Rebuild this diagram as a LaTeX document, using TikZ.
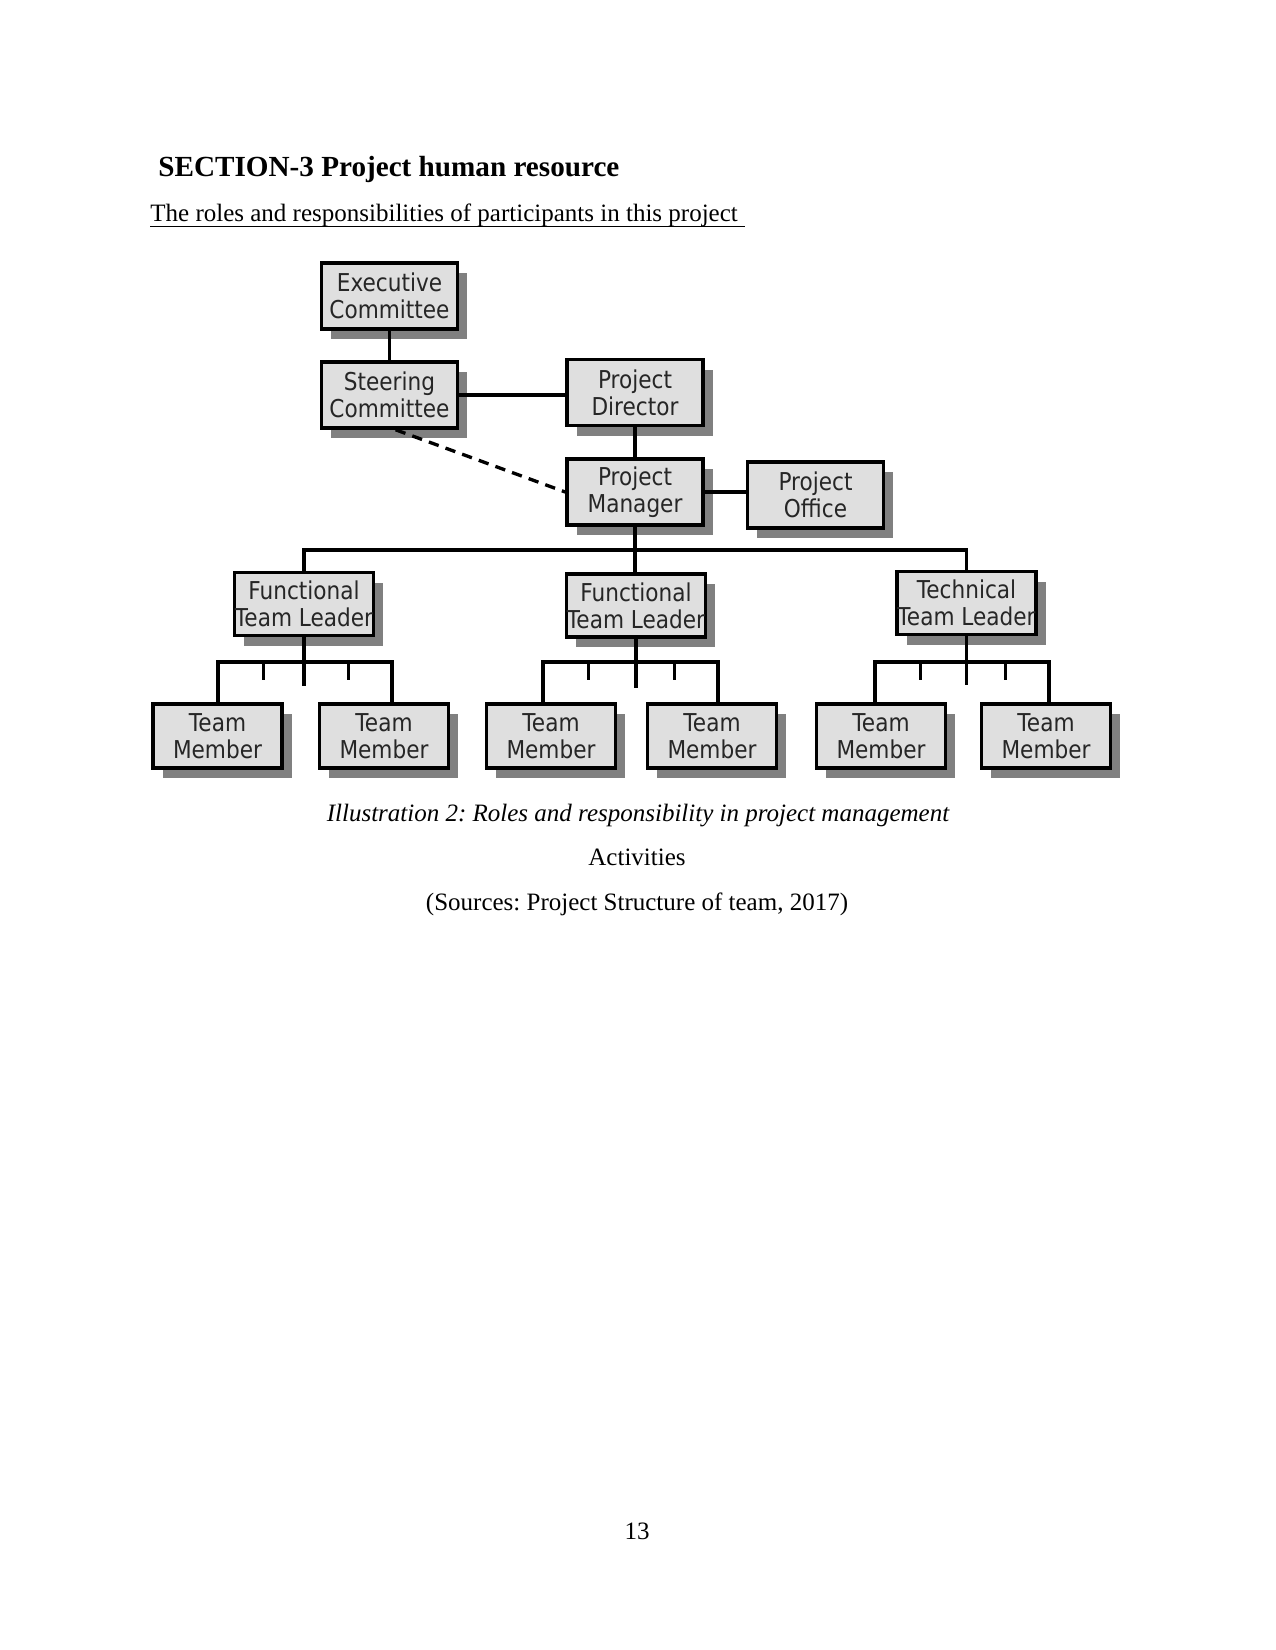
\documentclass[tikz,border=0pt]{standalone}
\usepackage{fontspec}
\setmainfont{Liberation Serif}
\newfontfamily\boxfont[FakeStretch=0.88]{DejaVu Sans}
\usetikzlibrary{shadows,calc}
\frenchspacing

\tikzset{
  unit/.style={draw, line width=1.7pt, fill=gray!25, text=black!85, align=center, inner sep=0pt,
    font=\boxfont\fontsize{11.8}{13}\selectfont,
    drop shadow={shadow xshift=4.6pt, shadow yshift=-5pt, fill=black!50, opacity=1}},
  upper/.style={unit, minimum width=65.3pt, minimum height=31.7pt},
  leader/.style={unit, minimum width=66.7pt, minimum height=30.2pt},
  member/.style={unit, minimum width=61.9pt, minimum height=30.7pt},
  link/.style={line width=1.6pt},
  plain/.style={anchor=base, inner sep=0pt, font=\fontsize{12}{14}\selectfont},
}

\begin{document}
\begin{tikzpicture}[x=0.48pt, y=-0.48pt]
\useasboundingbox (0,0) rectangle (1275,1650);

% heading
\node[plain, anchor=base west, font=\fontsize{14}{16}\selectfont\bfseries] (head) at (158,177) {SECTION-3 Project human resource};
\node[plain, anchor=base west] (intro) at (150,222) {The roles and responsibilities of participants in this project};
\draw[line width=0.6pt] ([yshift=-2pt]intro.base west) -- ([yshift=-2pt, xshift=3.2pt]intro.base east);

% top of the chart
\node[upper] (exec) at (389.5,296) {Executive\\Committee};
\node[upper] (steer) at (389.5,395) {Steering\\Committee};
\node[upper] (pdir) at (635,392.5) {Project\\Director};
\node[upper] (pman) at (635,492) {Project\\Manager};
\node[upper] (poff) at (815.5,495) {Project\\Office};

% leaders
\node[leader] (ftlA) at (304,604) {Functional\\Team Leader};
\node[leader] (ftlB) at (636,605.5) {Functional\\Team Leader};
\node[leader] (ttl) at (966.5,603) {Technical\\Team Leader};

% members
\foreach \n/\x in {tm1/217.5, tm2/384, tm3/551, tm4/712, tm5/881, tm6/1046}
  \node[member] (\n) at (\x,736) {Team\\Member};

\draw[link] (exec) -- (steer);
\draw[link] (steer.east) -- (steer.east -| pdir.west);
\draw[link] (pdir) -- (pman);
\draw[link] (pman.east) -- (pman.east -| poff.west);
\draw[link, dash pattern=on 5pt off 3.5pt] (steer.-80) -- (pman.west);

% bus under the manager
\coordinate (bus) at (635,550);
\draw[link] (ftlA.north) |- (bus) -| (ttl.north);
\draw[link] (pman) -- (pman |- ftlB.north);

% team rakes
\foreach \lead/\ml/\mr/\xl/\xr in {ftlA/tm1/tm2/218/392, ftlB/tm3/tm4/543/718, ttl/tm5/tm6/875/1049}{
  \coordinate (\lead-l) at (\xl,662);
  \coordinate (\lead-r) at (\xr,662);
  \draw[link] (\ml.north -| \lead-l) -- (\lead-l) -- (\lead-r) -- (\mr.north -| \lead-r);
  \draw[link] (\lead.south) -- ++(0,49);
  \draw[link] ($(\lead-l)!.26!(\lead-r)$) -- ++(0,18);
  \draw[link] ($(\lead-l)!.75!(\lead-r)$) -- ++(0,18);
}

% caption lines
\node[plain, font=\fontsize{12}{14}\selectfont\itshape] (capt) at (638,821) {Illustration 2: Roles and responsibility in project management};
\node[plain] (act) at (637,865) {Activities};
\node[plain] (src) at (637,910) {(Sources: Project Structure of team, 2017)};
\node[plain] (pageno) at (637,1539) {13};
\end{tikzpicture}
\end{document}
